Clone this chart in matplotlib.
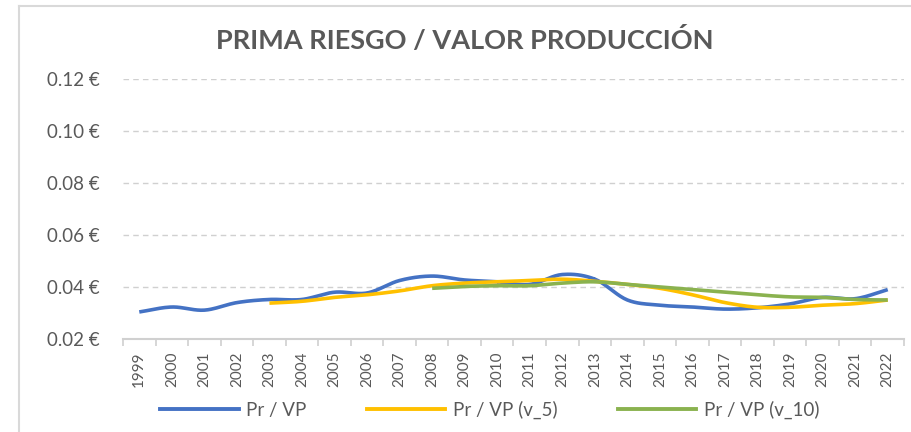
import numpy as np
import matplotlib
matplotlib.use("Agg")
import matplotlib.pyplot as plt
from matplotlib.lines import Line2D

plt.rcParams['font.family'] = ['Lato', 'DejaVu Sans']

years = list(range(1999, 2023))
pr_vp = [0.0304, 0.0323, 0.0311, 0.0340, 0.0352, 0.0352, 0.0380, 0.0377, 0.0425, 0.0442,
         0.0427, 0.0420, 0.0410, 0.0448, 0.0430, 0.0350, 0.0330, 0.0323, 0.0315, 0.0320,
         0.0335, 0.0360, 0.0355, 0.0390]
pr_vp_5 = [None, None, None, None, 0.0338, 0.0345, 0.0360, 0.0370, 0.0385, 0.0405,
           0.0415, 0.0420, 0.0425, 0.0430, 0.0422, 0.0410, 0.0395, 0.0370, 0.0340, 0.0322,
           0.0322, 0.0330, 0.0336, 0.0350]
pr_vp_10 = [None] * 9 + [0.0395, 0.0402, 0.0405, 0.0405, 0.0415, 0.0420, 0.0410, 0.0400,
                         0.0390, 0.0380, 0.0370, 0.0362, 0.0360, 0.0352, 0.0350]
series_names = ['Pr / VP', 'Pr / VP (v_5)', 'Pr / VP (v_10)']
colors = ['#4472C4', '#FFC000', '#8AB24F']


def smooth(x, y, n=20):
    # Catmull-Rom style curve through the points, like Excel smoothed lines
    x = np.asarray(x, float)
    y = np.asarray(y, float)
    px = np.concatenate([[2 * x[0] - x[1]], x, [2 * x[-1] - x[-2]]])
    py = np.concatenate([[2 * y[0] - y[1]], y, [2 * y[-1] - y[-2]]])
    xs, ys = [], []
    t = np.linspace(0, 1, n)
    for i in range(1, len(px) - 2):
        for arr, out in ((px, xs), (py, ys)):
            p0, p1, p2, p3 = arr[i - 1], arr[i], arr[i + 1], arr[i + 2]
            out.extend(0.5 * ((2 * p1) + (-p0 + p2) * t
                              + (2 * p0 - 5 * p1 + 4 * p2 - p3) * t ** 2
                              + (-p0 + 3 * p1 - 3 * p2 + p3) * t ** 3))
    return xs, ys


fig = plt.figure(figsize=(9.12, 4.32), dpi=100)
ax = fig.add_axes([123 / 912, 1 - 339 / 432, 781 / 912, 260 / 432])

pos = np.arange(len(years))
for vals, c in zip([pr_vp, pr_vp_5, pr_vp_10], colors):
    xi = [p for p, v in zip(pos, vals) if v is not None]
    yi = [v for v in vals if v is not None]
    sx, sy = smooth(xi, yi)
    ax.plot(sx, sy, color=c, lw=2.6, solid_capstyle='butt', zorder=3)

ax.set_xlim(-0.5, len(years) - 0.5)
ax.set_ylim(0.02, 0.12)
ax.set_yticks(np.arange(0.02, 0.121, 0.02))
ax.set_yticklabels([f'{v:.2f} €' for v in np.arange(0.02, 0.121, 0.02)],
                   fontsize=13.5, color='#595959')
ax.yaxis.grid(True, color='#D0D0D0', linestyle=(0, (4, 3)), lw=1)
ax.set_axisbelow(True)
ax.tick_params(axis='y', length=0, pad=17)

ax.set_xticks(pos)
ax.set_xticklabels([str(y) for y in years], rotation=90, fontsize=11, color='#595959')
ax.set_xticks(np.arange(-0.5, len(years)), minor=True)
ax.tick_params(axis='x', which='major', length=0, pad=9)
ax.tick_params(axis='x', which='minor', length=5, color='#D0D0D0', width=1.2)

for s in ['left', 'right', 'top']:
    ax.spines[s].set_visible(False)
ax.spines['bottom'].set_color('#D0D0D0')
ax.spines['bottom'].set_linewidth(1.5)

fig.text(0.51, 1 - 40 / 432, 'PRIMA RIESGO / VALOR PRODUCCIÓN', ha='center', va='center',
         fontsize=19.5, fontweight='bold', color='#595959')

handles = [Line2D([0], [0], color=c, lw=2.8) for c in colors]
fig.legend(handles, series_names, loc='center', bbox_to_anchor=(0.537, 1 - 410 / 432),
           ncol=3, frameon=False, fontsize=13.5, handlelength=4.2, columnspacing=3.2,
           labelcolor='#595959', handletextpad=0.4)

# chart border
fig.add_artist(Line2D([19 / 912, 19 / 912], [0, 1 - 6 / 432], color='#D9D9D9', lw=1.5))
fig.add_artist(Line2D([19 / 912, 1], [1 - 6 / 432, 1 - 6 / 432], color='#D9D9D9', lw=1.5))

fig.savefig('out.png', dpi=100)
